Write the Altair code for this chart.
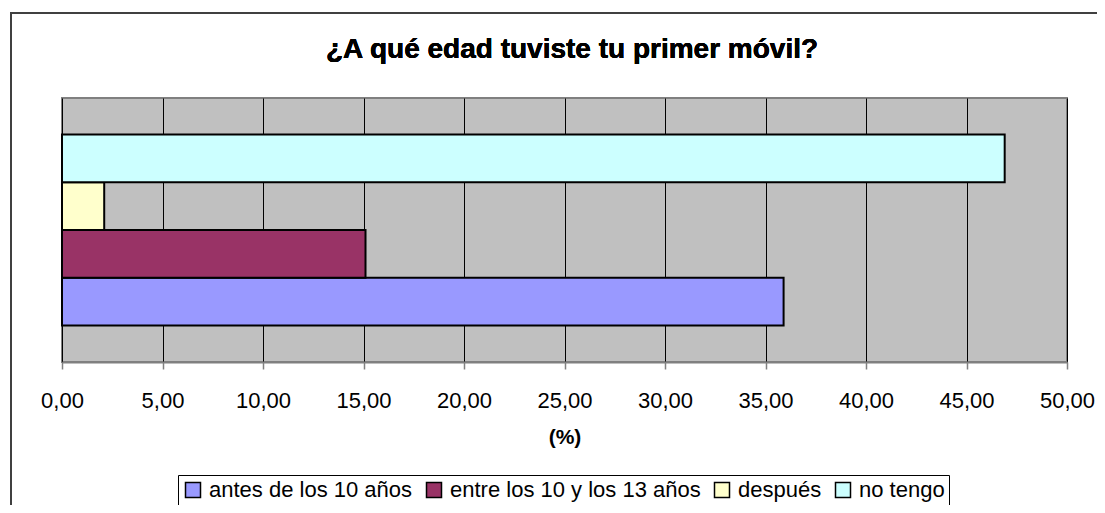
import altair as alt
import pandas as pd

categories = ["antes de los 10 años", "entre los 10 y los 13 años", "después", "no tengo"]
values = [35.9, 15.1, 2.1, 46.9]
colors = ["#9999FF", "#993366", "#FFFFCC", "#CCFFFF"]
ticks = [0, 5, 10, 15, 20, 25, 30, 35, 40, 45, 50]
title_text = "¿A qué edad tuviste tu primer móvil?"
x_title = "(%)"

df = pd.DataFrame({"serie": categories, "valor": values})

FONT = "Liberation Sans"

bars = alt.Chart(df).mark_bar(stroke="black", strokeWidth=2).encode(
    x=alt.X("valor:Q",
            scale=alt.Scale(domain=[0, 50], nice=False, zero=True),
            axis=alt.Axis(values=ticks,
                          labelExpr="replace(format(datum.value, '.2f'), '.', ',')",
                          labelFont=FONT, labelFontSize=22, labelColor="black",
                          labelFlush=False, labelOverlap=False,
                          title=x_title, titleFont=FONT, titleFontSize=21,
                          titleFontWeight="bold", titleColor="black",
                          grid=True, gridColor="black", gridWidth=1, gridOpacity=1,
                          domainColor="#808080", domainWidth=2,
                          tickColor="#808080", tickSize=7, tickWidth=1.5,
                          labelPadding=21, titlePadding=15)),
    y=alt.Y("serie:N", sort=list(reversed(categories)),
            scale=alt.Scale(paddingInner=0, paddingOuter=0.764),
            axis=None),
    color=alt.Color("serie:N",
                    scale=alt.Scale(domain=categories, range=colors),
                    legend=alt.Legend(title=None, orient="none", legendX=116, legendY=377,
                                      direction="horizontal",
                                      strokeColor="black", padding=4,
                                      symbolType="square", symbolSize=225,
                                      symbolStrokeColor="black", symbolStrokeWidth=1.5,
                                      labelFont=FONT, labelFontSize=22, labelColor="black",
                                      labelLimit=0, columnPadding=10, labelOffset=5)),
)

title_mark = alt.Chart(df).mark_text(
    font=FONT, fontSize=28, fontWeight="bold", color="black",
    align="center", baseline="alphabetic"
).encode(x=alt.value(510), y=alt.value(-40), text=alt.value(title_text))

frame_top = alt.Chart(df).mark_rule(color="#404040", strokeWidth=2).encode(
    x=alt.value(-52), x2=alt.value(1100), y=alt.value(-85))
frame_left = alt.Chart(df).mark_rule(color="#404040", strokeWidth=2).encode(
    x=alt.value(-51), y=alt.value(-86), y2=alt.value(420))

chart = alt.layer(bars, title_mark, frame_top, frame_left).properties(
    width=1005, height=264,
    autosize=alt.AutoSizeParams(type="none"),
    padding={"left": 54, "top": 90, "right": 30, "bottom": 143},
).configure_view(
    fill="#C0C0C0", stroke="#808080", strokeWidth=2
)

chart.save("out.html", embed_options={"renderer": "svg", "actions": False})
